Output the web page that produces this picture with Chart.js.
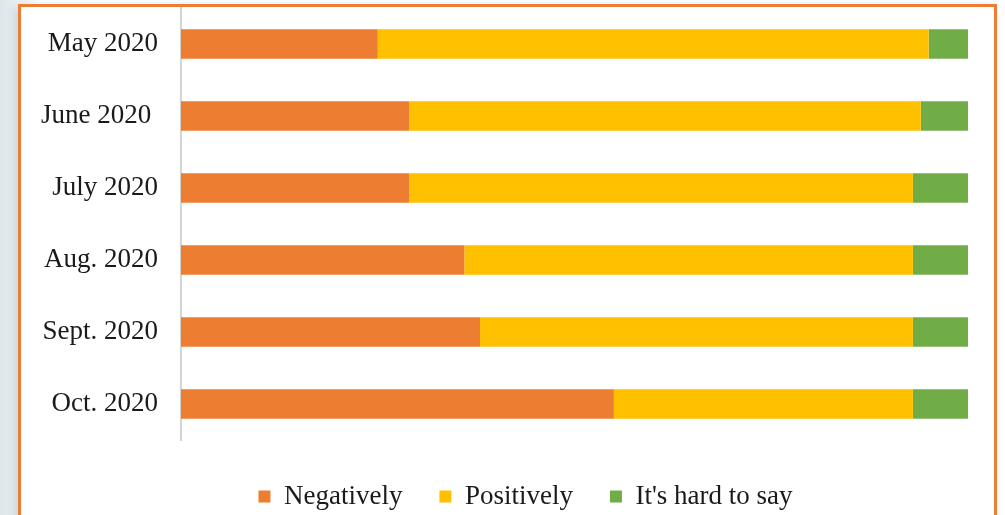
<!DOCTYPE html>
<html>
<head>
<meta charset="utf-8">
<script src="https://cdn.jsdelivr.net/npm/chart.js@4"></script>
<style>
  html, body { margin: 0; padding: 0; }
  body {
    width: 1005px; height: 515px; overflow: hidden; position: relative;
    background: linear-gradient(90deg, #dfe6eb 0px, #e8eef1 12px, #ffffff 40px);
  }
  .frame {
    position: absolute; left: 18px; top: 4px; width: 973px; height: 540px;
    border: 3px solid #ed7d31; background: #ffffff;
    box-shadow: -4px 2px 10px rgba(130, 160, 180, 0.35);
  }
  .frame canvas { position: absolute; left: 0; top: 0; }
</style>
</head>
<body>
<div class="frame">
  <canvas id="myChart" width="973" height="508"></canvas>
</div>
<script>
  const months = ["May 2020", "June 2020 ", "July 2020", "Aug. 2020", "Sept. 2020", "Oct. 2020"];
  const negatively = [25, 29, 29, 36, 38, 55];
  const positively = [70, 65, 64, 57, 55, 38];
  const hardToSay = [5, 6, 7, 7, 7, 7];

  const serif = "'Liberation Serif', 'Times New Roman', serif";

  // nudge the legend box so it sits centred under the whole frame, a bit lower
  const legendOffset = {
    id: "legendOffset",
    afterLayout: function (chart) {
      const lg = chart.legend;
      if (!lg) return;
      lg.left += 31;
      lg.right += 31;
      lg.top += 6;
      lg.bottom += 6;
    }
  };

  const ctx = document.getElementById("myChart").getContext("2d");
  new Chart(ctx, {
    type: "bar",
    data: {
      labels: months,
      datasets: [
        { label: "Negatively", data: negatively, backgroundColor: "#ed7d31" },
        { label: "Positively", data: positively, backgroundColor: "#ffc000" },
        { label: "It's hard to say", data: hardToSay, backgroundColor: "#70ad47" }
      ]
    },
    plugins: [legendOffset],
    options: {
      indexAxis: "y",
      responsive: false,
      animation: false,
      datasets: {
        bar: { categoryPercentage: 0.41, barPercentage: 1, borderWidth: 0 }
      },
      layout: {
        padding: { top: 1, left: 0, right: 26, bottom: 1 }
      },
      plugins: {
        tooltip: { enabled: false },
        legend: {
          position: "bottom",
          labels: {
            boxWidth: 12,
            boxHeight: 12,
            padding: 37,
            color: "#1a1a1a",
            font: { family: serif, size: 27 }
          }
        }
      },
      scales: {
        x: {
          stacked: true,
          min: 0,
          max: 100,
          display: false
        },
        y: {
          stacked: true,
          grid: { display: false, drawTicks: false },
          border: { display: true, color: "#d4d4d4", width: 2 },
          ticks: {
            padding: 23,
            color: "#1a1a1a",
            font: { family: serif, size: 27 }
          },
          afterFit: function (scale) {
            scale.width = 160;
            scale.paddingTop = 0;
            scale.paddingBottom = 0;
          }
        }
      }
    }
  });
</script>
</body>
</html>
